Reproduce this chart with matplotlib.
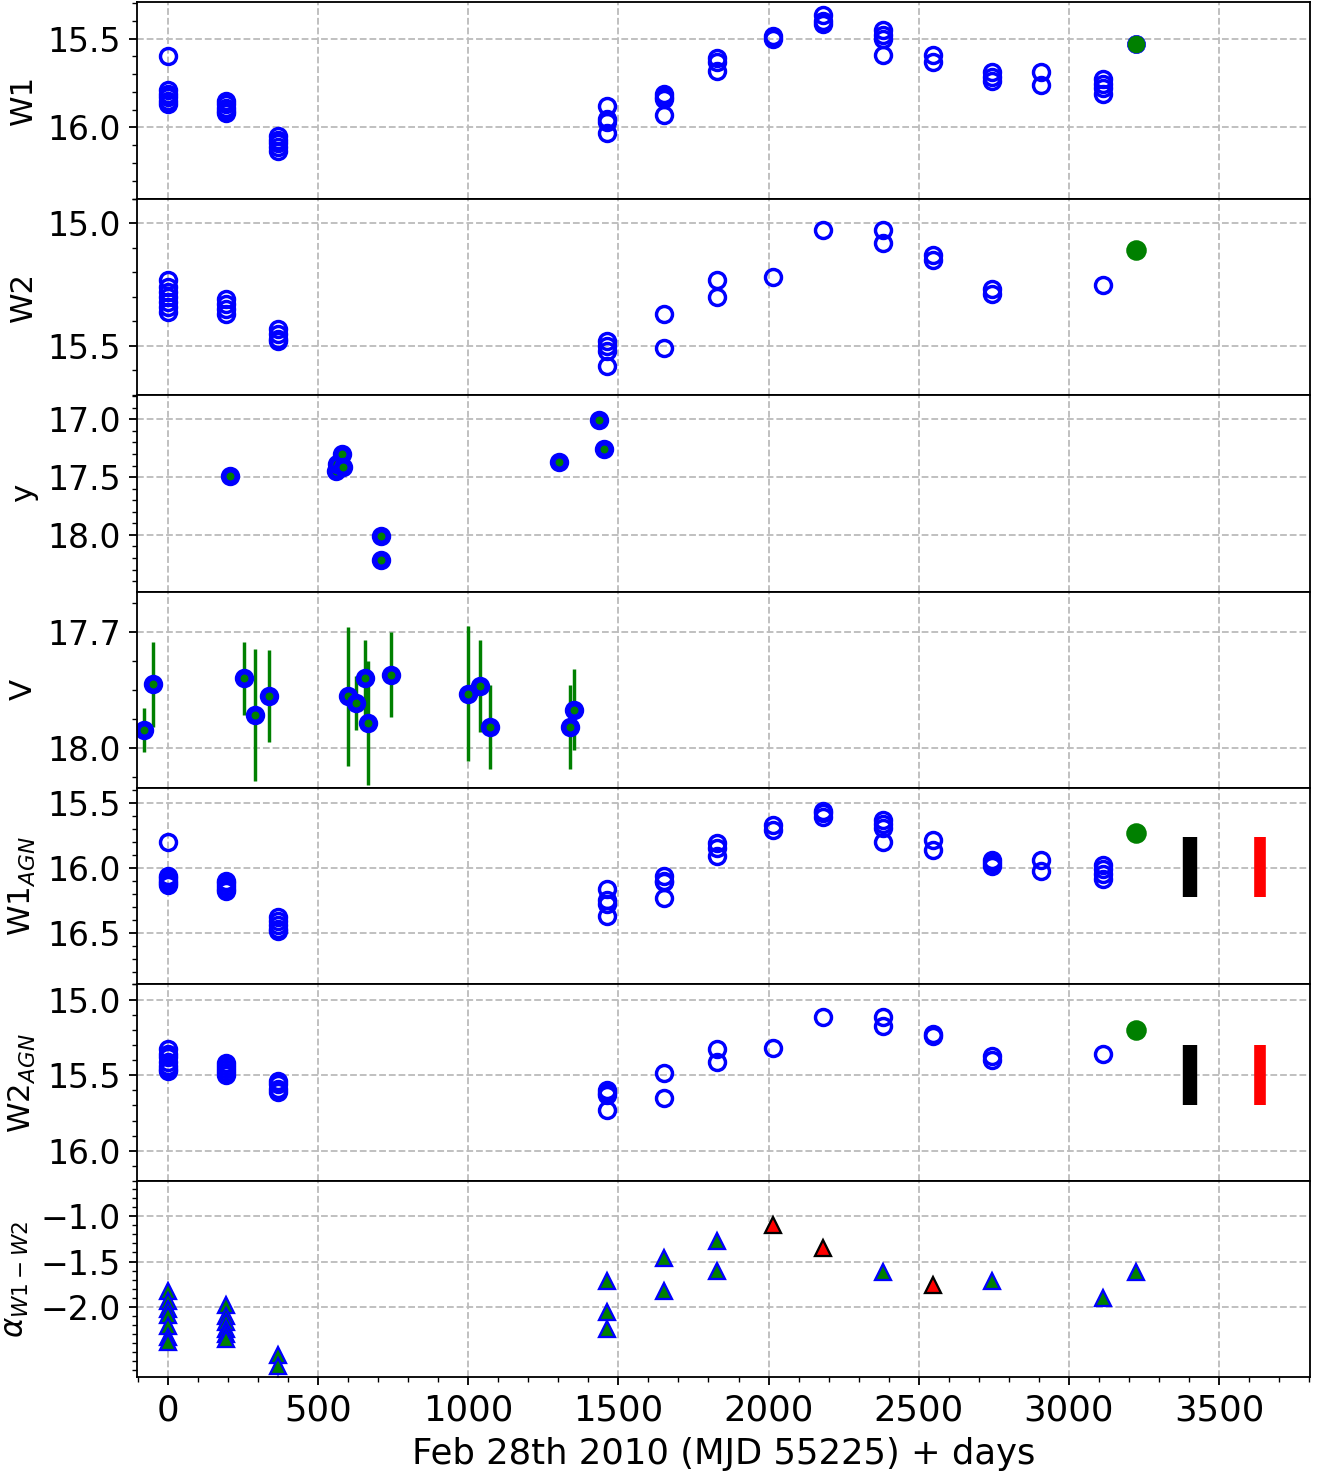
import matplotlib
matplotlib.use('Agg')
import matplotlib.pyplot as plt
import numpy as np
from matplotlib.ticker import AutoMinorLocator, MultipleLocator, FormatStrFormatter

# WISE epochs, days since Feb 28th 2010 (MJD 55225)
wise_days = [0, 192, 366, 1463, 1653, 1827, 2015, 2182, 2380, 2549, 2745, 2907, 3112]

# W1 magnitudes per epoch
w1_mag = [[15.60, 15.79, 15.81, 15.83, 15.85, 15.87],
          [15.85, 15.87, 15.89, 15.91, 15.92],
          [16.05, 16.07, 16.09, 16.11, 16.13],
          [15.88, 15.95, 15.97, 16.03],
          [15.81, 15.83, 15.84, 15.93],
          [15.61, 15.63, 15.685],
          [15.485, 15.50],
          [15.37, 15.40, 15.42],
          [15.45, 15.48, 15.50, 15.59],
          [15.59, 15.63],
          [15.69, 15.715, 15.74],
          [15.69, 15.76],
          [15.73, 15.755, 15.78, 15.81]]

# W2 magnitudes per epoch (no W2 at 2907)
w2_mag = [[15.23, 15.26, 15.28, 15.30, 15.32, 15.34, 15.36],
          [15.31, 15.33, 15.35, 15.37],
          [15.43, 15.45, 15.47, 15.48],
          [15.48, 15.50, 15.52, 15.58],
          [15.37, 15.51],
          [15.23, 15.30],
          [15.22],
          [15.03],
          [15.03, 15.08],
          [15.13, 15.15],
          [15.27, 15.29],
          [],
          [15.25]]

# host-subtracted (AGN) magnitudes
w1_agn = [[15.805, 16.06, 16.08, 16.10, 16.12, 16.13],
          [16.10, 16.12, 16.14, 16.16, 16.18],
          [16.38, 16.41, 16.44, 16.47, 16.49],
          [16.16, 16.25, 16.28, 16.37],
          [16.06, 16.10, 16.11, 16.23],
          [15.81, 15.85, 15.91],
          [15.67, 15.71],
          [15.56, 15.58, 15.61],
          [15.63, 15.665, 15.695, 15.80],
          [15.785, 15.86],
          [15.94, 15.965, 15.99],
          [15.94, 16.025],
          [15.975, 16.01, 16.05, 16.09]]

w2_agn = [[15.33, 15.36, 15.38, 15.41, 15.44, 15.46, 15.47],
          [15.42, 15.44, 15.46, 15.48, 15.50],
          [15.54, 15.56, 15.59, 15.61],
          [15.60, 15.62, 15.63, 15.73],
          [15.485, 15.65],
          [15.33, 15.415],
          [15.32],
          [15.115],
          [15.115, 15.175],
          [15.225, 15.24],
          [15.375, 15.40],
          [],
          [15.36]]

# spectral index alpha_{W1-W2}
alpha_green = [[-1.82, -1.94, -2.02, -2.09, -2.21, -2.33, -2.39],
               [-1.975, -2.10, -2.17, -2.24, -2.30, -2.35],
               [-2.53, -2.65, -2.86],
               [-1.715, -2.056, -2.24],
               [-1.464, -1.83],
               [-1.27, -1.60],
               [],
               [],
               [-1.62],
               [],
               [-1.72],
               [],
               [-1.90]]
alpha_red_days = [2015, 2182, 2549]
alpha_red = [-1.10, -1.345, -1.76]
alpha_ticks = [-1.0, -1.5, -2.0]

# latest epoch (green filled)
new_day = 3223
new_w1 = 15.53
new_w2 = 15.11
new_w1_agn = 15.73
new_w2_agn = 15.20
new_alpha = -1.62

# optical y band
y_days = [207, 559, 563, 580, 583, 708, 708, 1301, 1436, 1452]
y_mag = [17.49, 17.45, 17.39, 17.30, 17.41, 18.01, 18.22, 17.37, 17.01, 17.26]

# optical V band with errors
v_days = [-79, -49, 254, 290, 337, 599, 626, 656, 667, 742, 1000, 1038, 1073, 1338, 1353]
v_mag = [17.954, 17.834, 17.819, 17.914, 17.865, 17.865, 17.884, 17.819, 17.935,
         17.81, 17.859, 17.839, 17.945, 17.945, 17.90]
v_err = [0.057, 0.11, 0.095, 0.17, 0.12, 0.18, 0.07, 0.10, 0.16,
         0.11, 0.175, 0.12, 0.108, 0.11, 0.104]

# typical error bars (black, red) on the AGN panels
bar_days = [3402, 3636]
bar_colors = ['k', 'r']
bar_widths = [6.3, 5.1]
w1_bar = [15.995, 0.23]
w2_bar = [15.50, 0.197]


def flat(groups):
    d = np.repeat(wise_days, [len(g) for g in groups])
    m = np.concatenate([np.array(g, dtype=float) for g in groups])
    return d, m


dpi = 164.5
fig, axes = plt.subplots(7, 1, sharex=True, figsize=(1317 / dpi, 1477 / dpi))
fig.subplots_adjust(left=0.1038, right=0.9947, top=0.9986, bottom=0.0674, hspace=0)

fs = 15.5   # x tick labels and x label
yfs = 14.5  # y tick labels
lfs = 13.5  # y labels
open_kw = dict(ls='none', marker='o', ms=7, mfc='none', mec='b', mew=1.5)

# W1
ax = axes[0]
d, m = flat(w1_mag)
ax.plot(d, m, **open_kw)
ax.plot(new_day, new_w1, 'o', color='g', ms=8, mec='b', mew=0.3)
ax.yaxis.set_major_locator(MultipleLocator(0.5))
ax.set_ylim(16.40, 15.295)
ax.set_ylabel('W1', fontsize=lfs)

# W2
ax = axes[1]
d, m = flat(w2_mag)
ax.plot(d, m, **open_kw)
ax.plot(new_day, new_w2, 'o', color='g', ms=8)
ax.yaxis.set_major_locator(MultipleLocator(0.5))
ax.set_ylim(15.70, 14.90)
ax.set_ylabel('W2', fontsize=lfs)

# y
ax = axes[2]
ax.plot(y_days, y_mag, 'o', mfc='g', mec='b', ms=6, mew=2.5, ls='none')
ax.yaxis.set_major_locator(MultipleLocator(0.5))
ax.set_ylim(18.49, 16.79)
ax.set_ylabel('y', fontsize=lfs)

# V
ax = axes[3]
ax.errorbar(v_days, v_mag, yerr=v_err, fmt='o', mfc='g', mec='b', ms=6, mew=2.5,
            ecolor='g', elinewidth=1.5, capsize=0)
ax.yaxis.set_major_locator(MultipleLocator(0.3))
ax.set_ylim(18.103, 17.594)
ax.set_ylabel('V', fontsize=lfs)

# W1 AGN
ax = axes[4]
d, m = flat(w1_agn)
ax.plot(d, m, **open_kw)
ax.plot(new_day, new_w1_agn, 'o', color='g', ms=8)
for x, c, w in zip(bar_days, bar_colors, bar_widths):
    ax.errorbar(x, w1_bar[0], yerr=w1_bar[1], fmt='none', ecolor=c, elinewidth=w, capsize=0)
ax.yaxis.set_major_locator(MultipleLocator(0.5))
ax.set_ylim(16.90, 15.385)
ax.set_ylabel('W1$_{AGN}$', fontsize=lfs)

# W2 AGN
ax = axes[5]
d, m = flat(w2_agn)
ax.plot(d, m, **open_kw)
ax.plot(new_day, new_w2_agn, 'o', color='g', ms=8)
for x, c, w in zip(bar_days, bar_colors, bar_widths):
    ax.errorbar(x, w2_bar[0], yerr=w2_bar[1], fmt='none', ecolor=c, elinewidth=w, capsize=0)
ax.yaxis.set_major_locator(MultipleLocator(0.5))
ax.set_ylim(16.20, 14.90)
ax.set_ylabel('W2$_{AGN}$', fontsize=lfs)

# alpha
ax = axes[6]
d, m = flat(alpha_green)
ax.plot(d, m, '^', mfc='g', mec='b', ms=7, mew=1, ls='none')
ax.plot(new_day, new_alpha, '^', mfc='g', mec='b', ms=7, mew=1)
ax.plot(alpha_red_days, alpha_red, '^', mfc='r', mec='k', ms=7, mew=1, ls='none')
ax.set_ylim(-2.78, -0.61)
ax.set_yticks(alpha_ticks)
ax.set_ylabel(r'$\alpha_{W1-W2}$', fontsize=lfs)
ax.set_xlabel('Feb 28th 2010 (MJD 55225) + days', fontsize=fs)

for ax in axes:
    ax.grid(True, ls='--', color='#bcbcbc')
    if ax is axes[6]:
        ax.yaxis.set_minor_locator(MultipleLocator(0.1))
    else:
        ax.yaxis.set_major_formatter(FormatStrFormatter('%.1f'))
        ax.yaxis.set_minor_locator(AutoMinorLocator())
    ax.xaxis.set_minor_locator(MultipleLocator(100))
    ax.tick_params(axis='x', labelsize=fs)
    ax.tick_params(axis='y', labelsize=yfs)
    ax.set_axisbelow(True)

axes[-1].set_xlim(-104, 3803)

fig.savefig('out.png', dpi=dpi)
